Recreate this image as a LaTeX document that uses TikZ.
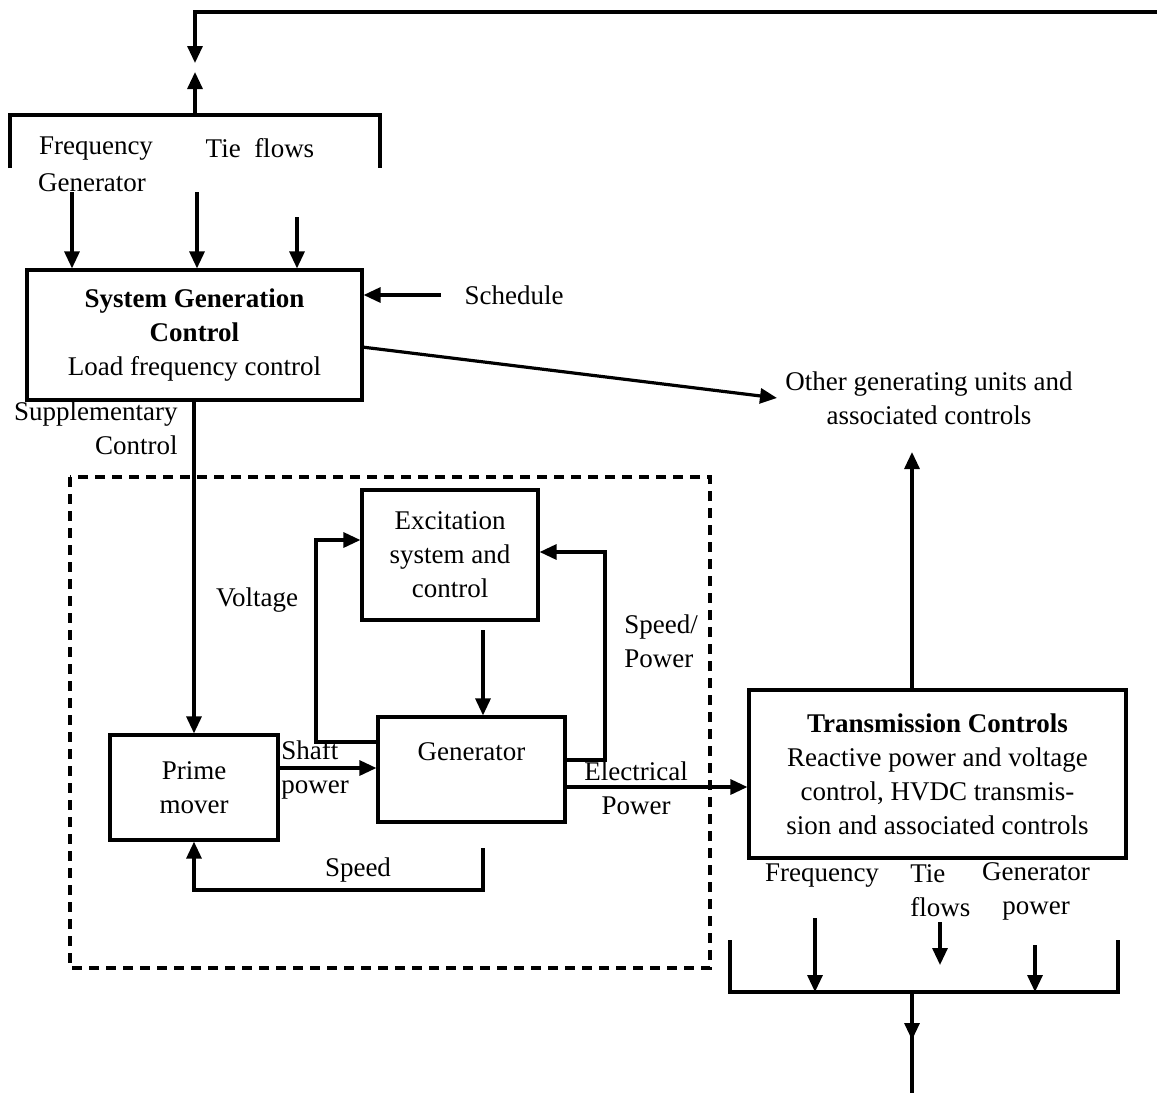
\documentclass[tikz,border=0pt]{standalone}
\usepackage{fontspec}
\setmainfont{Liberation Serif}
\usetikzlibrary{arrows.meta}
\usetikzlibrary{calc}

\begin{document}
\begin{tikzpicture}[
    x=0.5pt, y=-0.5pt,
    >={Triangle[length=8.5pt,width=7.5pt]},
    font=\fontsize{13.5}{17}\selectfont,
    % Bloques con borde negro
    Block/.style={
        draw, line width=1.6pt, inner sep=0pt, align=center
    },
    % Textos sueltos
    Txt/.style={inner sep=0pt, align=center},
    % Conectores
    Wire/.style={line width=1.6pt}
]
    \useasboundingbox (0,0) rectangle (1157,1093);

    % --- 1. CONTROL DE GENERACION DEL SISTEMA ---
    \node[Block, minimum width=167.5pt, minimum height=65pt] (sgc) at (194.5,335)
        {\textbf{System Generation}\\\textbf{Control}\\Load frequency control};

    % Barra superior y lazo de realimentacion
    \coordinate (topR) at (1157,12);
    \coordinate (topL) at (195,12);
    \coordinate (topTip) at (195,63);
    \coordinate (busUp) at (195,115);
    \coordinate (busTip) at (195,72);
    \draw[Wire, ->] (topR) -- (topL) -- (topTip);
    \draw[Wire, ->] (busUp) -- (busTip);
    \draw[Wire] (10,168) -- (10,115) -- (380,115) -- (380,168);

    \node[Txt] (fTop) at (96,149) {Frequency};
    \node[Txt] (tTop) at (260,148) {Tie\ \ flows};
    \node[Txt] (gTop) at (92,183) {Generator};

    % Entradas al bloque
    \foreach \x/\y in {72/192, 197/192, 297/217} {
        \coordinate (in\x) at (\x,\y);
        \draw[Wire, ->] (in\x) -- (sgc.north -| in\x);
    }

    \node[Txt] (sched) at (514,295) {Schedule};
    \draw[Wire, ->] ([xshift=-11.5pt]sched.west) -- (sgc.east |- sched);

    \node[Txt] (other) at (929,398) {Other generating units and\\associated controls};
    \coordinate (sgcOut) at (362,347);
    \draw[Wire, ->] (sgcOut) -- ([xshift=-4pt]other.west);

    \node[Txt, anchor=east, align=right] (supp) at (178,428) {Supplementary\\Control};

    % --- 2. UNIDAD GENERADORA (caja discontinua) ---
    \draw[line width=1.6pt, dash pattern=on 5pt off 3.5pt] (70,477) rectangle (710,968);

    \node[Block, minimum width=88pt, minimum height=65pt] (exc) at (450,555)
        {Excitation\\system and\\control};
    \node[Block, minimum width=93.5pt, minimum height=52.5pt] (gen) at (471.5,769.5) {};
    \node[Txt] (genTxt) at (471.5,752) {Generator};
    \node[Block, minimum width=84pt, minimum height=52.5pt] (pm) at (194,787.5)
        {Prime\\mover};

    \draw[Wire, ->] (sgc.south -| pm.north) -- (pm.north);

    % Lazo de tension
    \coordinate (vBot) at (316,742);
    \coordinate (vTop) at (316,540);
    \draw[Wire, ->] (gen.west |- vBot) -- (vBot) -- (vTop) -- (exc.west |- vTop);
    \node[Txt] (volt) at (257,600) {Voltage};

    % Lazo velocidad/potencia
    \coordinate (spB) at (605,760);
    \coordinate (spT) at (605,552);
    \draw[Wire, ->] (gen.east |- spB) -- (spB) -- (spT) -- (exc.east |- spT);
    \node[Txt, anchor=west, align=left] (spPw) at (624,641) {Speed/\\Power};

    % Excitacion -> generador
    \coordinate (eg) at (483,630);
    \draw[Wire, ->] (eg) -- (gen.north -| eg);

    % Potencia en el eje
    \coordinate (sh) at (330,768);
    \draw[Wire, ->] (pm.east |- sh) -- (gen.west |- sh);
    \node[Txt, anchor=west, align=left] (shaft) at (281,770) {Shaft\\power};

    % Lazo de velocidad
    \coordinate (spdA) at (483,848);
    \coordinate (spdB) at (483,890);
    \draw[Wire, ->] (spdA) -- (spdB) -| (pm.south);
    \node[Txt] (speed) at (358,870) {Speed};

    % --- 3. CONTROLES DE TRANSMISION ---
    \node[Block, minimum width=188.5pt, minimum height=84pt] (trans) at (937.5,774)
        {\textbf{Transmission Controls}\\Reactive power and voltage\\control, HVDC transmis-\\sion and associated controls};

    \coordinate (el) at (650,787);
    \draw[Wire, ->] (gen.east |- el) -- (trans.west |- el);
    \node[Txt] (elec) at (636,788) {Electrical\\Power};

    \coordinate (tx) at (912,452);
    \draw[Wire, ->] (trans.north -| tx) -- (tx);

    \node[Txt] (fBot) at (822,876) {Frequency};
    \node[Txt, anchor=west, align=left] (tBot) at (910,891) {Tie\\flows};
    \node[Txt] (gBot) at (1036,891) {Generator\\power};

    % Barra inferior
    \draw[Wire] (730,940) -- (730,992) -- (1118,992) -- (1118,940);
    \foreach \x/\y/\t in {815/918/992, 940/922/965, 1035/945/992} {
        \coordinate (out\x) at (\x,\y);
        \draw[Wire, ->] (out\x) -- (\x,\t);
    }
    \coordinate (botBus) at (912,992);
    \coordinate (botTip) at (912,1040);
    \coordinate (botEnd) at (912,1093);
    \draw[Wire] (botBus) -- (botEnd);
    \draw[Wire, ->] (botBus) -- (botTip);

\end{tikzpicture}
\end{document}
